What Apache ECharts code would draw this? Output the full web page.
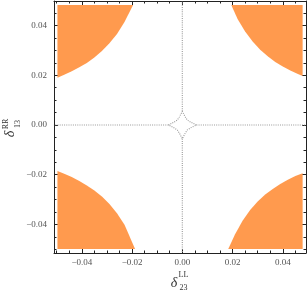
<!DOCTYPE html>
<html>
<head>
<meta charset="utf-8">
<script src="https://cdn.jsdelivr.net/npm/echarts@6/dist/echarts.min.js"></script>
<style>html,body{margin:0;padding:0;background:#fff;}#c{width:308px;height:295px;}</style>
</head>
<body>
<div id="c"></div>
<script>
// ---- data ----
const xMajorTicks = [-0.04, -0.02, 0, 0.02, 0.04];
const xMinorTicks = [-0.05, -0.045, -0.035, -0.03, -0.025, -0.015, -0.01, -0.005, 0.005, 0.01, 0.015, 0.025, 0.03, 0.035, 0.045];
const yMajorTicks = [-0.04, -0.02, 0, 0.02, 0.04];
const yMinorTicks = [-0.05, -0.045, -0.035, -0.03, -0.025, -0.015, -0.01, -0.005, 0.005, 0.01, 0.015, 0.025, 0.03, 0.035, 0.045];

// orange allowed regions (boundary, closed with the corner)
const regionTopLeft = [[-0.0497, 0.0483], [-0.0497, 0.0190], [-0.047, 0.0202], [-0.044, 0.0216], [-0.041, 0.0232], [-0.038, 0.0250], [-0.035, 0.0272], [-0.032, 0.0298], [-0.029, 0.0329], [-0.026, 0.0366], [-0.023, 0.0414], [-0.0196, 0.0483]];
const regionTopRight = [[0.0479, 0.0483], [0.0195, 0.0483], [0.022, 0.0427], [0.025, 0.0376], [0.028, 0.0336], [0.031, 0.0303], [0.034, 0.0277], [0.037, 0.0254], [0.040, 0.0235], [0.043, 0.0219], [0.046, 0.0205], [0.0479, 0.0197]];
const regionBottomLeft = [[-0.0497, -0.0499], [-0.0497, -0.0185], [-0.047, -0.0196], [-0.044, -0.0209], [-0.041, -0.0225], [-0.038, -0.0243], [-0.035, -0.0264], [-0.032, -0.0288], [-0.029, -0.0318], [-0.026, -0.0355], [-0.023, -0.0401], [-0.0188, -0.0499]];
const regionBottomRight = [[0.0479, -0.0499], [0.0183, -0.0499], [0.021, -0.0440], [0.024, -0.0385], [0.027, -0.0342], [0.030, -0.0308], [0.033, -0.0280], [0.036, -0.0257], [0.039, -0.0237], [0.042, -0.0220], [0.045, -0.0205], [0.0479, -0.0194]];

// dotted contour lines
const contourUp = [[0, 0.0055], [0, 0.0499]];
const contourDown = [[0, -0.0055], [0, -0.0515]];
const contourLeft = [[-0.0055, 0], [-0.0511, 0]];
const contourRight = [[0.0056, 0], [0.0492, 0]];
const contourStar = [[0.0056, 0], [0.0032, 0.0012], [0.0020, 0.0020], [0.0012, 0.0032], [0, 0.0055], [-0.0012, 0.0032], [-0.0020, 0.0020], [-0.0032, 0.0012], [-0.0055, 0], [-0.0032, -0.0012], [-0.0020, -0.0020], [-0.0012, -0.0032], [0, -0.0055], [0.0012, -0.0032], [0.0020, -0.0020], [0.0032, -0.0012], [0.0056, 0]];

const xTitle = ['δ', 'LL', '23'];
const yTitle = ['δ', 'RR', '13'];

// ---- chart ----
const orange = '#FF9A4E';
const frameColor = '#222';
const serif = '"Liberation Serif", "DejaVu Serif", serif';
const fmt = v => {
  if (Math.abs(v) < 1e-9) return '0.00';
  return (v < 0 ? '\u2212' : '') + Math.abs(v).toFixed(2);
};
const X_MIN = -0.05107, X_MAX = 0.04924, Y_MIN = -0.0515, Y_MAX = 0.0499;

function axis(pos, ticks, len, showLabel, showLine, min, max, isX) {
  return {
    type: 'value', position: pos, min: min, max: max, gridIndex: 0,
    axisLine: {show: showLine, onZero: false, lineStyle: {color: frameColor, width: 1}},
    axisTick: {show: true, inside: true, length: len, customValues: ticks, lineStyle: {color: frameColor, width: 1}},
    axisLabel: showLabel ? {show: true, customValues: ticks, formatter: fmt, fontFamily: serif, fontSize: 9, color: '#555', margin: isX ? 5 : 7} : {show: false},
    splitLine: {show: false}
  };
}

function polySeries(pts) {
  return {
    type: 'custom', xAxisIndex: 0, yAxisIndex: 0, silent: true, z: 2,
    data: [0],
    renderItem: function (params, api) {
      const points = pts.map(p => api.coord(p));
      return {type: 'polygon', shape: {points: points, smooth: 0}, style: {fill: orange, stroke: null}};
    }
  };
}
function lineSeries(pts) {
  return {
    type: 'line', xAxisIndex: 0, yAxisIndex: 0, data: pts, symbol: 'none', silent: true, z: 3,
    lineStyle: {color: '#999', width: 1.1, type: [1, 1.2]}
  };
}

const chart = echarts.init(document.getElementById('c'), null, {renderer: 'canvas'});
chart.setOption({
  animation: false,
  backgroundColor: '#fff',
  grid: {left: 54, top: 1, width: 252, height: 252, containLabel: false, outerBoundsMode: 'none'},
  xAxis: [
    axis('bottom', xMajorTicks, 4, true, true, X_MIN, X_MAX, true),
    axis('bottom', xMinorTicks, 2.5, false, false, X_MIN, X_MAX, true),
    axis('top', xMajorTicks, 4, false, true, X_MIN, X_MAX, true),
    axis('top', xMinorTicks, 2.5, false, false, X_MIN, X_MAX, true)
  ],
  yAxis: [
    axis('left', yMajorTicks, 4, true, true, Y_MIN, Y_MAX, false),
    axis('left', yMinorTicks, 2.5, false, false, Y_MIN, Y_MAX, false),
    axis('right', yMajorTicks, 4, false, true, Y_MIN, Y_MAX, false),
    axis('right', yMinorTicks, 2.5, false, false, Y_MIN, Y_MAX, false)
  ],
  series: [
    polySeries(regionTopLeft), polySeries(regionTopRight),
    polySeries(regionBottomLeft), polySeries(regionBottomRight),
    lineSeries(contourUp), lineSeries(contourDown), lineSeries(contourLeft), lineSeries(contourRight),
    lineSeries(contourStar)
  ],
  graphic: [
    {type: 'text', x: 174, y: 283, style: {text: xTitle[0], font: 'italic 14px ' + serif, fill: '#333', align: 'center', verticalAlign: 'middle'}},
    {type: 'text', x: 183.5, y: 275, style: {text: xTitle[1], font: '8px ' + serif, fill: '#333', align: 'center', verticalAlign: 'middle'}},
    {type: 'text', x: 183.5, y: 287.5, style: {text: xTitle[2], font: '8px ' + serif, fill: '#333', align: 'center', verticalAlign: 'middle'}},
    {type: 'text', x: 10, y: 134, rotation: Math.PI / 2, style: {text: yTitle[0], font: 'italic 14px ' + serif, fill: '#333', align: 'center', verticalAlign: 'middle'}},
    {type: 'text', x: 5.5, y: 124, rotation: Math.PI / 2, style: {text: yTitle[1], font: '8px ' + serif, fill: '#333', align: 'center', verticalAlign: 'middle'}},
    {type: 'text', x: 17.5, y: 124, rotation: Math.PI / 2, style: {text: yTitle[2], font: '8px ' + serif, fill: '#333', align: 'center', verticalAlign: 'middle'}}
  ]
});
</script>
</body>
</html>
